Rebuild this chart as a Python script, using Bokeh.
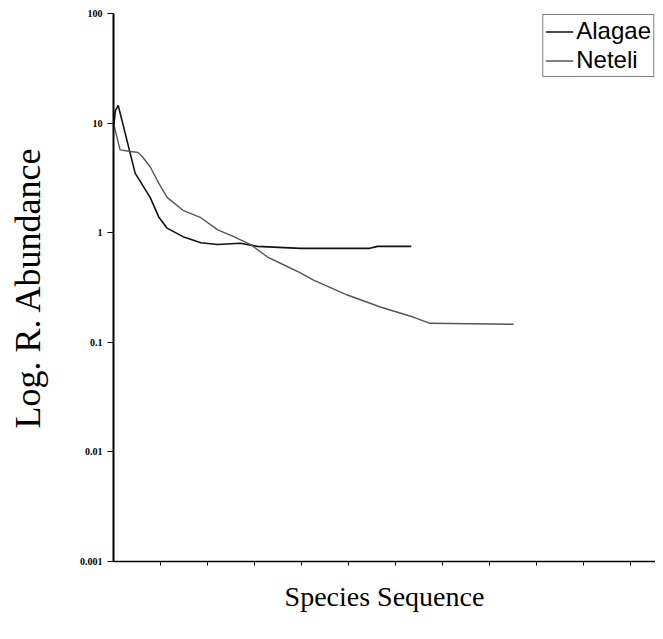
from bokeh.plotting import figure
from bokeh.models import Range1d, FixedTicker, Legend, LegendItem
from bokeh.embed import file_html
from bokeh.resources import INLINE

# Species rank (x) and relative abundance (y, log scale)
alagae_rank = [0, 0.2, 0.5, 1.5, 2.3, 3.9, 4.8, 5.7, 7.4, 9.3, 11.1, 13.5, 15.3, 19.9, 27.3, 28.1, 31.7]
alagae_abund = [9.0, 13.0, 14.5, 6.6, 3.5, 2.1, 1.4, 1.1, 0.92, 0.81, 0.78, 0.8, 0.75, 0.72, 0.72, 0.75, 0.75]

neteli_rank = [0, 0.7, 1.8, 2.6, 3.1, 3.9, 4.8, 5.7, 7.4, 9.3, 11.1, 12.8, 14.6, 16.4, 18.1, 19.9,
               21.3, 24.9, 28.4, 31.9, 33.7, 42.6]
neteli_abund = [10.0, 5.7, 5.5, 5.4, 4.9, 4.0, 2.85, 2.1, 1.6, 1.37, 1.06, 0.92, 0.78, 0.6, 0.51, 0.43,
                0.37, 0.27, 0.21, 0.17, 0.149, 0.146]

y_ticks = [0.001, 0.01, 0.1, 1, 10, 100]
y_tick_labels = ["0.001", "0.01", "0.1", "1", "10", "100"]
x_ticks = [5, 10, 15, 20, 25, 30, 35, 40, 45, 50, 55]

p = figure(width=655, height=631, y_axis_type="log",
           x_range=Range1d(0, 57.7), y_range=Range1d(0.001, 100),
           output_backend="svg", toolbar_location=None,
           min_border_left=113, min_border_right=0, min_border_top=13, min_border_bottom=70)
p.outline_line_color = None
p.grid.visible = False
p.background_fill_color = "white"
p.border_fill_color = "white"

l1 = p.line(alagae_rank, alagae_abund, line_color="#111111", line_width=1.6)
l2 = p.line(neteli_rank, neteli_abund, line_color="#555555", line_width=1.4)

# y axis
ya = p.yaxis[0]
ya.ticker = FixedTicker(ticks=y_ticks, minor_ticks=[])
ya.major_label_overrides = {t: s for t, s in zip(y_ticks, y_tick_labels)}
ya.major_label_text_font = "Liberation Serif"
ya.major_label_text_font_size = "10px"
ya.major_label_text_font_style = "bold"
ya.major_label_text_color = "black"
ya.major_tick_in = 0
ya.major_tick_out = 6
ya.minor_tick_line_color = None
ya.axis_line_width = 2
ya.axis_line_color = "black"
ya.axis_label = "Log. R. Abundance"
ya.axis_label_text_font = "Liberation Serif"
ya.axis_label_text_font_size = "36px"
ya.axis_label_text_font_style = "normal"
ya.axis_label_text_color = "black"
ya.axis_label_standoff = 29

# x axis
xa = p.xaxis[0]
xa.ticker = FixedTicker(ticks=x_ticks, minor_ticks=[])
xa.major_label_text_font_size = "0px"
xa.major_label_text_color = None
xa.major_tick_in = 0
xa.major_tick_out = 4
xa.minor_tick_line_color = None
xa.axis_line_width = 1.5
xa.axis_line_color = "black"
xa.axis_label = "Species Sequence"
xa.axis_label_text_font = "Liberation Serif"
xa.axis_label_text_font_size = "28px"
xa.axis_label_text_font_style = "normal"
xa.axis_label_text_color = "black"
xa.axis_label_standoff = 15

legend = Legend(items=[LegendItem(label="Alagae", renderers=[l1]),
                       LegendItem(label="Neteli", renderers=[l2])],
                location="top_right")
legend.label_text_font = "Liberation Sans"
legend.label_text_font_size = "24px"
legend.label_text_color = "black"
legend.border_line_color = "black"
legend.border_line_width = 1
legend.background_fill_alpha = 1
legend.glyph_width = 28
legend.label_height = 27
legend.glyph_height = 27
legend.spacing = 1
legend.padding = 2
legend.margin = 1
legend.label_standoff = 3
p.add_layout(legend)

open("out.html", "w").write(file_html(p, INLINE))
